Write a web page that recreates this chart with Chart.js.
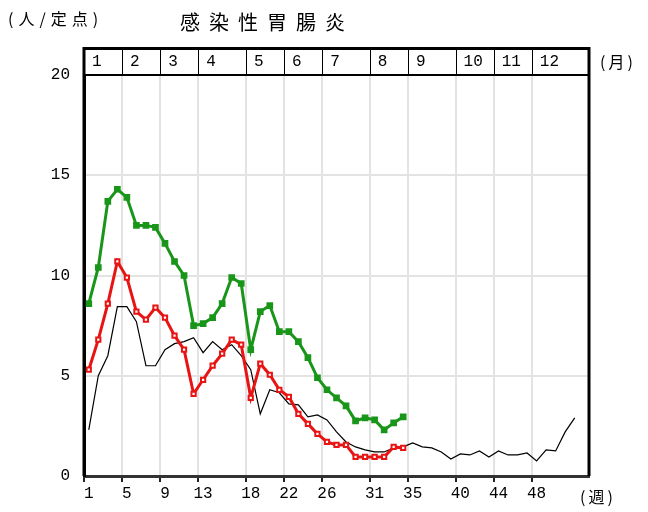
<!DOCTYPE html>
<html>
<head>
<meta charset="utf-8">
<script src="https://cdn.jsdelivr.net/npm/chart.js@4/dist/chart.umd.min.js"></script>
<style>
  html, body { margin: 0; padding: 0; background: #fff; }
  #wrap { width: 648px; height: 512px; position: relative; }
</style>
</head>
<body>
<div id="wrap"><canvas id="chart"></canvas></div>
<script>
// weeks on the x axis
const weeks = [1,2,3,4,5,6,7,8,9,10,11,12,13,14,15,16,17,18,19,20,21,22,23,24,25,26,27,
  28,29,30,31,32,33,34,35,36,37,38,39,40,41,42,43,44,45,46,47,48,49,50,51,52,53];
const tickWeeks = [1, 5, 9, 13, 18, 22, 26, 31, 35, 40, 44, 48];
const monthLabels = ['1','2','3','4','5','6','7','8','9','10','11','12'];
const yTicks = [0, 5, 10, 15, 20];

// 人/定点
const greenSeries = [8.6,10.4,13.7,14.3,13.9,12.5,12.5,12.4,11.6,10.7,10.0,7.5,7.6,7.9,8.6,9.9,9.6,
  6.3,8.2,8.5,7.2,7.2,6.7,5.9,4.9,4.3,3.9,3.5,2.75,2.9,2.8,2.3,2.65,2.95];
const redSeries = [5.3,6.8,8.6,10.7,9.9,8.2,7.8,8.4,7.9,7.0,6.3,4.1,4.8,5.5,6.1,6.8,6.55,
  3.9,5.6,5.05,4.3,3.95,3.1,2.6,2.1,1.7,1.55,1.55,0.95,0.95,0.95,0.95,1.45,1.4];
const blackSeries = [2.3,5.0,6.0,8.45,8.45,7.7,5.5,5.5,6.3,6.6,6.7,6.9,6.15,6.7,6.3,6.55,6.0,
  5.3,3.1,4.3,4.15,3.6,3.55,2.95,3.05,2.8,2.2,1.7,1.45,1.3,1.2,1.2,1.4,1.45,1.65,1.45,1.4,
  1.2,0.85,1.1,1.05,1.25,0.95,1.25,1.05,1.05,1.15,0.75,1.3,1.25,2.2,2.9];

const numFont = '"Liberation Mono", monospace';
const jpFont = '"Noto Sans CJK JP", sans-serif';

// index of a grid line (left edge of a week) -> is it a tick week?
function isTickLine(i) {
  return tickWeeks.includes(i + 1);
}

// month band on top + extra labels
const bandPlugin = {
  id: 'band',
  afterDraw(chart) {
    const ctx = chart.ctx;
    const a = chart.chartArea;
    const x = chart.scales.x;
    const half = (x.getPixelForValue(1) - x.getPixelForValue(0)) / 2;
    const top = a.top - 28;
    ctx.save();
    ctx.fillStyle = '#fff';
    ctx.fillRect(a.left, top, a.right - a.left, a.top - top);

    // separators
    ctx.strokeStyle = '#000';
    ctx.lineWidth = 1;
    tickWeeks.forEach((w, i) => {
      if (i === 0) return;
      const px = Math.round(x.getPixelForValue(w - 1) - half) + 0.5;
      ctx.beginPath();
      ctx.moveTo(px, top);
      ctx.lineTo(px, a.top);
      ctx.stroke();
    });

    // month labels
    ctx.fillStyle = '#000';
    ctx.font = '16px ' + numFont;
    ctx.textBaseline = 'middle';
    ctx.textAlign = 'left';
    tickWeeks.forEach((w, i) => {
      const px = x.getPixelForValue(w - 1) - half;
      ctx.fillText(monthLabels[i], px + 8, top + 15);
    });

    // frame
    ctx.lineWidth = 3;
    ctx.beginPath();
    ctx.moveTo(a.left, a.bottom);
    ctx.lineTo(a.left, top + 1.5);
    ctx.lineTo(a.right, top + 1.5);
    ctx.lineTo(a.right, a.bottom);
    ctx.stroke();
    ctx.lineWidth = 2;
    ctx.beginPath();
    ctx.moveTo(a.left, a.top);
    ctx.lineTo(a.right, a.top);
    ctx.stroke();

    // texts
    ctx.letterSpacing = '5px';
    ctx.font = '16px ' + jpFont;
    ctx.fillText('(人/定点)', 8, 19);
    ctx.letterSpacing = '3px';
    ctx.fillText('(月)', 600, 62);
    ctx.fillText('(週)', 580, 497);
    ctx.letterSpacing = '9px';
    ctx.font = '20px ' + jpFont;
    ctx.fillText('感染性胃腸炎', 180, 22);
    ctx.restore();
  }
};

const greenColor = 'rgb(25, 150, 25)';
const redColor = 'rgb(232, 20, 20)';

new Chart(document.getElementById('chart'), {
  type: 'line',
  data: {
    labels: weeks,
    datasets: [
      {
        label: 'green',
        data: greenSeries,
        borderColor: greenColor,
        backgroundColor: greenColor,
        borderWidth: 3,
        pointStyle: 'rect',
        pointRadius: 2.6,
        pointBackgroundColor: greenColor,
        pointBorderColor: greenColor,
        tension: 0,
        order: 1
      },
      {
        label: 'red',
        data: redSeries,
        borderColor: redColor,
        backgroundColor: '#fff',
        borderWidth: 3,
        pointStyle: 'rect',
        pointRadius: 3,
        pointBorderWidth: 2,
        pointBackgroundColor: '#fff',
        pointBorderColor: redColor,
        tension: 0,
        order: 2
      },
      {
        label: 'black',
        data: blackSeries,
        borderColor: '#000',
        borderWidth: 1.2,
        pointRadius: 0,
        tension: 0,
        order: 3
      }
    ]
  },
  options: {
    responsive: true,
    maintainAspectRatio: false,
    animation: false,
    layout: { padding: { top: 75, right: 59, left: 0, bottom: 0 } },
    plugins: {
      legend: { display: false },
      tooltip: { enabled: false }
    },
    scales: {
      x: {
        type: 'category',
        offset: true,
        afterFit: s => { s.height = 36; },
        border: { color: '#333', width: 3 },
        grid: {
          offset: true,
          drawTicks: true,
          tickLength: 6,
          lineWidth: 2,
          color: ctx => isTickLine(ctx.index) ? '#e3e3e3' : 'rgba(0,0,0,0)',
          tickColor: ctx => isTickLine(ctx.index) ? '#222' : 'rgba(0,0,0,0)'
        },
        ticks: {
          autoSkip: false,
          maxRotation: 0,
          padding: 2,
          color: '#000',
          font: { family: numFont, size: 16 },
          callback: function(val, i) {
            const w = weeks[i];
            return tickWeeks.includes(w) ? String(w) : '';
          }
        }
      },
      y: {
        min: 0,
        max: 20,
        afterFit: s => { s.width = 84; },
        afterBuildTicks: s => { s.ticks = yTicks.map(v => ({ value: v })); },
        border: { color: '#000', width: 3 },
        grid: { color: '#e3e3e3', lineWidth: 2, drawTicks: false },
        ticks: {
          padding: 14,
          color: '#000',
          font: { family: numFont, size: 16 }
        }
      }
    }
  },
  plugins: [bandPlugin]
});
</script>
</body>
</html>
